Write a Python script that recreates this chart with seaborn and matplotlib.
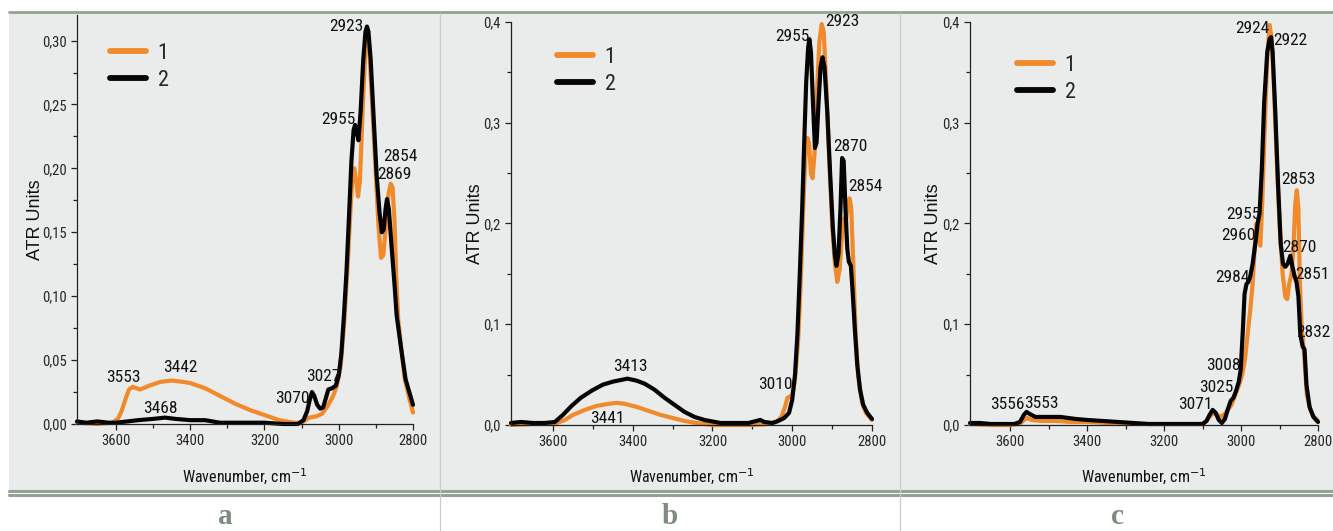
import numpy as np
import pandas as pd
import seaborn as sns
import matplotlib
matplotlib.use("Agg")
import matplotlib.pyplot as plt
from matplotlib import font_manager
from matplotlib.lines import Line2D
from matplotlib.patches import Rectangle
from matplotlib.ticker import MultipleLocator, FixedLocator, FuncFormatter

# ---------------------------------------------------------------- data
# Panel a
a1_wn = [3705, 3650, 3610, 3595, 3585, 3575, 3565, 3555, 3545, 3535, 3510, 3480, 3450, 3420,
         3400, 3360, 3320, 3280, 3240, 3200, 3160, 3120, 3100, 3090, 3080, 3060, 3045, 3030,
         3015, 3005, 2995, 2985, 2975, 2968, 2962, 2958, 2953, 2948, 2943, 2935, 2928, 2923,
         2918, 2910, 2900, 2893, 2886, 2880, 2873, 2866, 2860, 2855, 2850, 2845, 2840, 2832,
         2822, 2810, 2800]
a1_ab = [0.001, 0.000, 0.001, 0.004, 0.010, 0.019, 0.027, 0.029, 0.028, 0.027, 0.030, 0.033,
         0.034, 0.033, 0.032, 0.028, 0.022, 0.016, 0.011, 0.007, 0.003, 0.001, 0.001, 0.003,
         0.005, 0.006, 0.008, 0.014, 0.022, 0.030, 0.045, 0.080, 0.130, 0.170, 0.198, 0.200,
         0.190, 0.178, 0.190, 0.250, 0.295, 0.305, 0.295, 0.250, 0.195, 0.155, 0.130, 0.132,
         0.155, 0.180, 0.188, 0.185, 0.160, 0.115, 0.082, 0.060, 0.035, 0.020, 0.009]
a2_wn = [3705, 3680, 3650, 3620, 3600, 3570, 3540, 3500, 3468, 3440, 3400, 3360, 3320, 3280,
         3240, 3200, 3150, 3110, 3095, 3085, 3078, 3072, 3066, 3058, 3050, 3042, 3035, 3028,
         3018, 3008, 3000, 2993, 2986, 2979, 2972, 2966, 2960, 2956, 2951, 2947, 2941, 2934,
         2928, 2924, 2920, 2914, 2906, 2898, 2890, 2884, 2879, 2874, 2870, 2865, 2858, 2850,
         2844, 2838, 2830, 2820, 2810, 2800]
a2_ab = [0.002, 0.001, 0.002, 0.001, 0.001, 0.002, 0.003, 0.004, 0.005, 0.004, 0.003, 0.003,
         0.001, 0.001, 0.001, 0.001, 0.000, 0.000, 0.003, 0.010, 0.019, 0.025, 0.022, 0.015,
         0.012, 0.013, 0.020, 0.027, 0.028, 0.030, 0.038, 0.055, 0.085, 0.120, 0.165, 0.205,
         0.230, 0.234, 0.228, 0.222, 0.245, 0.285, 0.307, 0.311, 0.307, 0.285, 0.240, 0.195,
         0.165, 0.150, 0.152, 0.168, 0.176, 0.168, 0.140, 0.110, 0.085, 0.072, 0.055, 0.035,
         0.025, 0.015]

# Panel b
b1_wn = [3705, 3650, 3600, 3590, 3570, 3550, 3520, 3490, 3460, 3441, 3420, 3390, 3360, 3330,
         3300, 3270, 3240, 3200, 3150, 3100, 3060, 3040, 3027, 3018, 3012, 3006, 3000, 2993,
         2985, 2978, 2972, 2966, 2962, 2958, 2953, 2949, 2944, 2938, 2932, 2926, 2921, 2915,
         2908, 2900, 2893, 2887, 2881, 2875, 2870, 2865, 2860, 2856, 2852, 2847, 2841, 2835,
         2825, 2815, 2800]
b1_ab = [0.000, 0.001, 0.001, 0.002, 0.005, 0.010, 0.015, 0.019, 0.021, 0.022, 0.021, 0.018,
         0.014, 0.010, 0.007, 0.004, 0.002, 0.000, 0.000, 0.000, 0.001, 0.003, 0.008, 0.018,
         0.027, 0.028, 0.030, 0.045, 0.085, 0.150, 0.220, 0.275, 0.285, 0.280, 0.250, 0.245,
         0.270, 0.330, 0.380, 0.398, 0.390, 0.340, 0.270, 0.200, 0.160, 0.142, 0.155, 0.190,
         0.205, 0.203, 0.220, 0.225, 0.215, 0.160, 0.090, 0.050, 0.022, 0.012, 0.005]
b2_wn = [3705, 3680, 3650, 3620, 3595, 3575, 3553, 3530, 3503, 3475, 3450, 3413, 3390, 3370,
         3345, 3320, 3295, 3270, 3245, 3220, 3180, 3140, 3110, 3090, 3080, 3070, 3050, 3035,
         3020, 3008, 3000, 2993, 2987, 2981, 2975, 2970, 2965, 2960, 2957, 2953, 2948, 2943,
         2939, 2934, 2929, 2924, 2919, 2912, 2905, 2898, 2893, 2889, 2884, 2879, 2875, 2871,
         2866, 2862, 2858, 2853, 2849, 2843, 2837, 2830, 2822, 2812, 2800]
b2_ab = [0.002, 0.003, 0.002, 0.002, 0.003, 0.010, 0.019, 0.027, 0.034, 0.040, 0.043, 0.046,
         0.044, 0.041, 0.035, 0.027, 0.020, 0.013, 0.008, 0.005, 0.002, 0.002, 0.002, 0.004,
         0.005, 0.003, 0.002, 0.004, 0.007, 0.012, 0.025, 0.050, 0.090, 0.150, 0.215, 0.280,
         0.340, 0.375, 0.383, 0.370, 0.320, 0.275, 0.280, 0.320, 0.355, 0.365, 0.355, 0.310,
         0.250, 0.195, 0.168, 0.158, 0.170, 0.215, 0.265, 0.262, 0.210, 0.175, 0.162, 0.158,
         0.135, 0.095, 0.060, 0.035, 0.020, 0.012, 0.006]

# Panel c
c1_wn = [3705, 3650, 3600, 3575, 3565, 3556, 3545, 3520, 3480, 3440, 3400, 3350, 3300, 3250,
         3200, 3150, 3100, 3090, 3080, 3071, 3062, 3052, 3040, 3025, 3015, 3005, 2997, 2990,
         2983, 2976, 2970, 2964, 2960, 2955, 2950, 2945, 2938, 2932, 2926, 2921, 2915, 2908,
         2900, 2892, 2885, 2880, 2875, 2869, 2864, 2859, 2855, 2851, 2847, 2842, 2836, 2829,
         2820, 2810, 2800]
c1_ab = [0.001, 0.000, 0.000, 0.001, 0.005, 0.007, 0.005, 0.004, 0.004, 0.003, 0.003, 0.002,
         0.001, 0.001, 0.001, 0.001, 0.001, 0.004, 0.009, 0.012, 0.010, 0.008, 0.012, 0.020,
         0.030, 0.040, 0.050, 0.065, 0.090, 0.115, 0.140, 0.180, 0.200, 0.185, 0.178, 0.220,
         0.300, 0.365, 0.397, 0.385, 0.340, 0.270, 0.200, 0.150, 0.127, 0.125, 0.140, 0.150,
         0.175, 0.220, 0.233, 0.215, 0.140, 0.095, 0.070, 0.030, 0.015, 0.008, 0.004]
c2_wn = [3705, 3680, 3650, 3620, 3590, 3575, 3565, 3558, 3550, 3535, 3500, 3470, 3430, 3400,
         3360, 3320, 3280, 3240, 3200, 3150, 3100, 3090, 3082, 3074, 3066, 3058, 3050, 3042,
         3035, 3027, 3020, 3013, 3006, 3001, 2996, 2991, 2986, 2981, 2976, 2970, 2963, 2957,
         2952, 2946, 2940, 2932, 2926, 2922, 2918, 2911, 2904, 2897, 2891, 2885, 2879, 2872,
         2867, 2861, 2856, 2851, 2846, 2840, 2835, 2830, 2822, 2812, 2800]
c2_ab = [0.002, 0.002, 0.001, 0.001, 0.001, 0.003, 0.010, 0.013, 0.011, 0.008, 0.008, 0.008,
         0.006, 0.005, 0.004, 0.003, 0.002, 0.001, 0.001, 0.001, 0.001, 0.004, 0.010, 0.015,
         0.012, 0.005, 0.002, 0.006, 0.015, 0.024, 0.027, 0.034, 0.043, 0.055, 0.090, 0.130,
         0.140, 0.142, 0.148, 0.160, 0.180, 0.200, 0.210, 0.255, 0.320, 0.370, 0.383, 0.385,
         0.370, 0.310, 0.240, 0.180, 0.160, 0.157, 0.160, 0.168, 0.158, 0.148, 0.142, 0.128,
         0.090, 0.078, 0.075, 0.040, 0.018, 0.008, 0.003]

# Peak labels: (text, wavenumber position, absorbance position)
a_labels = [("2923", 2980, 0.311), ("2955", 3001, 0.2385), ("2854", 2834, 0.209),
            ("2869", 2850, 0.195), ("3553", 3580, 0.036), ("3442", 3428, 0.0445),
            ("3468", 3480, 0.012), ("3070", 3126, 0.020), ("3027", 3041, 0.037)]
b_labels = [("2955", 2999, 0.386), ("2923", 2874, 0.400), ("2870", 2853, 0.276),
            ("2854", 2817, 0.237), ("3413", 3405, 0.058), ("3441", 3463, 0.0067),
            ("3010", 3041, 0.040)]
c_labels = [("2924", 2971, 0.394), ("2922", 2873, 0.382), ("2853", 2850, 0.244),
            ("2955", 2993, 0.209), ("2960", 3006, 0.188), ("2984", 3023, 0.146),
            ("2870", 2848, 0.176), ("2851", 2815, 0.149), ("2832", 2812, 0.092),
            ("3008", 3045, 0.0595), ("3025", 3065, 0.037), ("3071", 3120, 0.020),
            ("3556", 3609, 0.020), ("3553", 3520, 0.0217)]

series_names = ["1", "2"]
panel_letters = ["a", "b", "c"]
x_ticks = [3600, 3400, 3200, 3000, 2800]

# ---------------------------------------------------------------- style
sns.set_theme(style="ticks")

# pick a narrow sans face for the numbers if one is installed
fonts = font_manager.fontManager.ttflist
narrow_family, narrow_stretch = "Liberation Sans", "normal"
for fam in ["Liberation Sans Narrow", "Arial Narrow", "Roboto Condensed", "Open Sans Condensed"]:
    if any(f.name == fam for f in fonts):
        narrow_family = fam
        break
else:
    for fam in ["Roboto", "Open Sans", "DejaVu Sans", "Noto Sans"]:
        if any(f.name == fam and f.stretch in ("condensed", "semi-condensed") for f in fonts):
            narrow_family, narrow_stretch = fam, "condensed"
            break
is_narrow = narrow_family != "Liberation Sans"

plt.rcParams["font.family"] = [narrow_family, "DejaVu Sans"]
plt.rcParams["font.stretch"] = narrow_stretch

num_size = 12.5 if is_narrow else 10.5
tick_size = 10.5 if is_narrow else 9
xlab_size = 11.5 if is_narrow else 10.5

ORANGE = "#F08A2B"
BLACK = "#050505"
PANEL_BG = "#EAEBEB"
RULE = "#94A294"
LETTER = "#7C8C7E"

W, H = 1333, 531
fig = plt.figure(figsize=(W / 100, H / 100), dpi=100)
fig.patch.set_facecolor("white")

# grey table band behind the charts and the frame rules
fig.add_artist(Rectangle((9 / W, 1 - 490 / H), 1 - 9 / W, (490 - 13) / H,
                         transform=fig.transFigure, facecolor=PANEL_BG, edgecolor="none", zorder=0))
for yy, lw in [(12, 2.0), (491, 2.2), (495, 2.2)]:
    fig.add_artist(Line2D([9 / W, 1], [1 - yy / H] * 2, transform=fig.transFigure,
                          color=RULE, lw=lw, zorder=1))
for xx in [440, 900]:
    fig.add_artist(Line2D([xx / W] * 2, [0, 1 - 13 / H], transform=fig.transFigure,
                          color="#C9CEC9", lw=0.9, zorder=1))

# axes rectangles in pixels: left, right, top, bottom
boxes = [(77, 413, 15, 424), (511, 872, 22, 425), (970, 1318, 22, 425)]
ylims = [(0, 0.32), (0, 0.4), (0, 0.4)]
ymajor = [0.05, 0.1, 0.1]
yminor = [0.025, 0.05, 0.05]
ydec = [2, 1, 1]
ylab_px = [35, 476, 934]
legend_px = [(110, 43), (557, 47), (1017, 55)]
letter_x = [225, 670, 1117]

panels = [
    ((a1_wn, a1_ab), (a2_wn, a2_ab), a_labels),
    ((b1_wn, b1_ab), (b2_wn, b2_ab), b_labels),
    ((c1_wn, c1_ab), (c2_wn, c2_ab), c_labels),
]

for i, (s1, s2, labels) in enumerate(panels):
    l, r, t, b = boxes[i]
    ax = fig.add_axes([l / W, 1 - b / H, (r - l) / W, (b - t) / H])
    ax.set_facecolor("none")

    df = pd.concat([
        pd.DataFrame({"Wavenumber": s1[0], "ATR": s1[1], "Sample": series_names[0]}),
        pd.DataFrame({"Wavenumber": s2[0], "ATR": s2[1], "Sample": series_names[1]}),
    ])
    sns.lineplot(data=df, x="Wavenumber", y="ATR", hue="Sample", sort=False,
                 palette={"1": ORANGE, "2": BLACK}, estimator=None, linewidth=3.0,
                 ax=ax, legend=False)
    for ln in ax.lines:
        ln.set_clip_on(False)
        ln.set_solid_joinstyle("round")
        ln.set_solid_capstyle("round")

    ax.set_xlim(3705, 2800)
    ax.set_ylim(*ylims[i])
    sns.despine(ax=ax)
    for sp in ("left", "bottom"):
        ax.spines[sp].set_linewidth(0.9)
        ax.spines[sp].set_color("#222222")

    ax.xaxis.set_major_locator(FixedLocator(x_ticks))
    ax.xaxis.set_minor_locator(FixedLocator([3500, 3300, 3100, 2900]))
    ax.yaxis.set_major_locator(MultipleLocator(ymajor[i]))
    ax.yaxis.set_minor_locator(MultipleLocator(yminor[i]))
    d = ydec[i]
    ax.yaxis.set_major_formatter(FuncFormatter(lambda v, p, d=d: f"{v:.{d}f}".replace(".", ",")))
    ax.tick_params(which="major", direction="out", length=4.5, width=0.9, color="#222222",
                   labelsize=tick_size, pad=3)
    ax.tick_params(which="minor", direction="out", length=3, width=0.9, color="#222222")

    ax.set_xlabel("Wavenumber, cm$^{-1}$", fontsize=xlab_size, color="#111111")
    ax.xaxis.label.set_va("center")
    ax.xaxis.set_label_coords(0.5, -0.13)
    ax.set_ylabel("ATR Units", fontsize=13, family=["Liberation Sans", "DejaVu Sans"],
                  stretch="normal", color="#111111")
    ax.yaxis.label.set_va("center")
    ax.yaxis.set_label_coords((ylab_px[i] - l) / (r - l), 0.5)

    for txt, xw, yv in labels:
        ax.text(xw, yv, txt, ha="center", va="center", fontsize=num_size, color="#111111",
                clip_on=False)

    handles = [Line2D([], [], color=ORANGE, lw=4.2), Line2D([], [], color=BLACK, lw=4.2)]
    lx, ly = legend_px[i]
    ax.legend(handles, series_names, loc="upper left", frameon=False,
              bbox_to_anchor=(lx / W, 1 - ly / H), bbox_transform=fig.transFigure,
              fontsize=16, handlelength=1.6, handletextpad=0.55, labelspacing=0.25,
              borderpad=0, borderaxespad=0)

    fig.text(letter_x[i] / W, 1 - 516 / H, panel_letters[i], ha="center", va="center",
             fontsize=21, fontweight="bold", family=["Liberation Serif", "DejaVu Serif"],
             color=LETTER)

fig.savefig("out.png", dpi=100, facecolor="white")
